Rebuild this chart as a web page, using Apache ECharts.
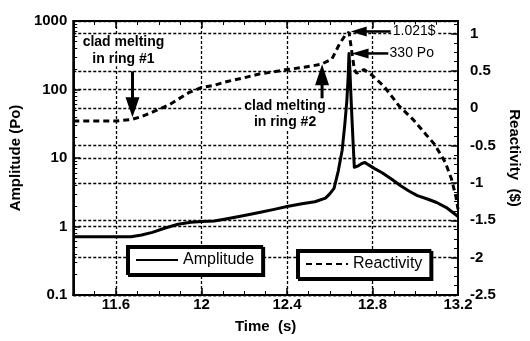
<!DOCTYPE html>
<html><head><meta charset="utf-8">
<script src="https://cdn.jsdelivr.net/npm/echarts@6/dist/echarts.min.js"></script>
<style>html,body{margin:0;padding:0;background:#fff}#c{width:530px;height:341px}</style>
</head><body><div id="c"></div>
<script>
// ---- data ----
const ampTime   = [11.40,11.67,11.72,11.77,11.83,11.89,11.95,12.00,12.06,12.12,12.20,12.27,12.34,12.40,12.47,12.53,12.58,12.60,12.62,12.64,12.658,12.67,12.68,12.686,12.69,12.694,12.70,12.708,12.715,12.73,12.75,12.765,12.78,12.81,12.845,12.89,12.93,12.97,13.01,13.06,13.10,13.15,13.20];
const ampValues = [0.71,0.71,0.75,0.82,0.95,1.08,1.15,1.18,1.20,1.30,1.45,1.60,1.78,1.96,2.15,2.30,2.60,3.0,3.6,6.5,13,30,69,150,336,200,70,20,7.3,7.6,8.3,8.6,8.0,7.0,6.1,4.9,3.97,3.3,2.83,2.5,2.24,1.85,1.4];
const reactTime   = [11.40,11.60,11.67,11.72,11.77,11.85,11.94,12.00,12.06,12.12,12.20,12.27,12.34,12.40,12.48,12.56,12.61,12.645,12.675,12.69,12.70,12.715,12.725,12.745,12.76,12.80,12.855,12.925,12.99,13.05,13.09,13.14,13.17,13.19,13.20];
const reactValues = [-0.17,-0.17,-0.15,-0.11,-0.05,0.05,0.21,0.28,0.31,0.36,0.41,0.46,0.49,0.52,0.55,0.59,0.66,0.86,0.99,1.021,0.82,0.52,0.47,0.50,0.52,0.44,0.29,0.03,-0.15,-0.35,-0.48,-0.72,-0.95,-1.18,-1.35];
const xLabels = [11.6, 12, 12.4, 12.8, 13.2];
const xMajorTicks = [11.6, 12, 12.4, 12.8];
const yRightLabels = [-2.5, -2, -1.5, -1, -0.5, 0, 0.5, 1];
const logMinorTicks = [];
[-1,0,1,2].forEach(e => { for (let m = 2; m <= 9; m++) logMinorTicks.push(e + Math.log10(m)); });

const FONT = 'Liberation Sans, Arial, sans-serif';
const BLK = '#000';
const gridLine = {show:true, lineStyle:{color:BLK, width:1.3, type:[3,2]}};

const chart = echarts.init(document.getElementById('c'), null, {renderer:'canvas'});
const xBase = {type:'value', min:11.4, max:13.2, gridIndex:0};
const tickOnly = (pos, opts) => Object.assign({}, xBase, {
  position:pos, axisLine:{show:false, onZero:false}, axisLabel:{show:false}, splitLine:{show:false}
}, opts);

chart.setOption({
  animation:false,
  backgroundColor:'#fff',
  grid:{left:66, right:61, top:21, bottom:46, show:true, borderColor:BLK, borderWidth:2, backgroundColor:'transparent'},
  xAxis:[
    Object.assign({}, xBase, {
      position:'bottom',
      name:'Time  (s)', nameLocation:'middle', nameGap:24,
      nameTextStyle:{fontFamily:FONT, fontSize:15, fontWeight:'bold', color:BLK},
      axisLine:{show:true, onZero:false, lineStyle:{color:BLK, width:2}},
      axisTick:{show:true, inside:true, length:7, lineStyle:{color:BLK, width:1.5}, customValues:xMajorTicks},
      axisLabel:{customValues:xLabels, margin:2, fontFamily:FONT, fontSize:15, fontWeight:'bold', color:BLK,
                 formatter:v => String(+v.toFixed(1))},
      splitLine:gridLine
    }),
    tickOnly('bottom', {interval:0.1, axisTick:{show:true, inside:true, length:4, lineStyle:{color:BLK, width:1}}}),
    tickOnly('top', {interval:0.1, axisTick:{show:true, inside:true, length:4, lineStyle:{color:BLK, width:1}}}),
    tickOnly('top', {axisTick:{show:true, inside:true, length:7, lineStyle:{color:BLK, width:1.5}, customValues:xMajorTicks}})
  ],
  yAxis:[
    {
      type:'log', logBase:10, min:0.1, max:1000, position:'left',
      name:'Amplitude (Po)', nameLocation:'middle', nameGap:40, nameRotate:90,
      nameTextStyle:{fontFamily:FONT, fontSize:15, fontWeight:'bold', color:BLK},
      axisLine:{show:true, onZero:false, lineStyle:{color:BLK, width:2}},
      axisTick:{show:true, inside:true, length:7, lineStyle:{color:BLK, width:1.5}},
      axisLabel:{margin:6, fontFamily:FONT, fontSize:15, fontWeight:'bold', color:BLK,
                 formatter:v => (v < 1 ? '0.1' : String(Math.round(v)))},
      splitLine:gridLine
    },
    {
      type:'value', min:-1, max:3, position:'left',
      axisLine:{show:false, onZero:false}, axisLabel:{show:false}, splitLine:{show:false},
      axisTick:{show:true, inside:true, length:4, lineStyle:{color:BLK, width:1}, customValues:logMinorTicks}
    },
    {
      type:'value', min:-2.5, max:1.17, interval:0.5, position:'right',
      name:'Reactivity  ($)', nameLocation:'middle', nameGap:49, nameRotate:-90,
      nameTextStyle:{fontFamily:FONT, fontSize:15, fontWeight:'bold', color:BLK},
      axisLine:{show:true, onZero:false, lineStyle:{color:BLK, width:2}},
      axisTick:{show:true, inside:true, length:7, lineStyle:{color:BLK, width:1.5}, customValues:yRightLabels},
      minorTick:{show:true, splitNumber:4, length:4, lineStyle:{color:BLK, width:1}},
      axisLabel:{customValues:yRightLabels, margin:12, fontFamily:FONT, fontSize:15, fontWeight:'bold', color:BLK,
                 formatter:v => String(+v.toFixed(1))},
      splitLine:gridLine
    }
  ],
  legend:[
    {data:['Amplitude'], left:127, top:246, orient:'horizontal', padding:[6,8,6,8], itemWidth:42, itemHeight:16,
     itemStyle:{color:'transparent', borderColor:'transparent', borderWidth:0, opacity:0},
     backgroundColor:'#fff', borderColor:BLK, borderWidth:2, shadowColor:BLK, shadowOffsetX:2, shadowOffsetY:2, shadowBlur:0,
     textStyle:{fontFamily:FONT, fontSize:16, color:BLK}},
    {data:['Reactivity'], left:297, top:250, orient:'horizontal', padding:[6,8,6,8], itemWidth:42, itemHeight:16,
     itemStyle:{color:'transparent', borderColor:'transparent', borderWidth:0, opacity:0},
     backgroundColor:'#fff', borderColor:BLK, borderWidth:2, shadowColor:BLK, shadowOffsetX:2, shadowOffsetY:2, shadowBlur:0,
     textStyle:{fontFamily:FONT, fontSize:16, color:BLK}}
  ],
  series:[
    {name:'Amplitude', type:'line', xAxisIndex:0, yAxisIndex:0, symbol:'none', smooth:false,
     lineStyle:{color:BLK, width:3, join:'round'}, itemStyle:{color:BLK},
     data:ampTime.map((t,i) => [t, ampValues[i]]), z:3},
    {name:'Reactivity', type:'line', xAxisIndex:0, yAxisIndex:2, symbol:'none', smooth:false,
     lineStyle:{color:BLK, width:3, type:[6,4]}, itemStyle:{color:BLK},
     data:reactTime.map((t,i) => [t, reactValues[i]]), z:3}
  ]
});

// ---- annotations, anchored to data coordinates ----
function px(ya, t, v){ return chart.convertToPixel({xAxisIndex:0, yAxisIndex:ya}, [t, v]); }
const r1 = px(2, 11.677, -0.12);   // clad melting ring #1 arrow tip
const r2 = px(2, 12.564, 0.59);    // clad melting ring #2 arrow tip
const pk = px(2, 12.698, 1.03);    // 1.021$ arrow tip
const pa = px(0, 12.702, 336);     // 330 Po arrow tip
const annFont = 'bold 14px ' + FONT;
const valFont = '14px ' + FONT;
function txt(x, y, s, font, align){
  return {type:'text', x:x, y:y, z:20, style:{text:s, font:font, fill:BLK, align:align||'center', verticalAlign:'middle',
          backgroundColor:'#fff', padding:[0,1]}};
}
function vline(x, y1, y2){ return {type:'line', z:20, shape:{x1:x, y1:y1, x2:x, y2:y2}, style:{stroke:BLK, lineWidth:3}}; }
function hline(y, x1, x2){ return {type:'line', z:20, shape:{x1:x1, y1:y, x2:x2, y2:y}, style:{stroke:BLK, lineWidth:2.5}}; }
function poly(pts){ return {type:'polygon', z:20, shape:{points:pts}, style:{fill:BLK}}; }
chart.setOption({graphic:[
  txt(r1[0]-9, r1[1]-75, 'clad melting', annFont),
  txt(r1[0]-9, r1[1]-58, 'in ring #1', annFont),
  vline(r1[0], r1[1]-46, r1[1]-18),
  poly([[r1[0]-7, r1[1]-20], [r1[0]+7, r1[1]-20], [r1[0], r1[1]]]),
  txt(r2[0]-37, r2[1]+42, 'clad melting', annFont),
  txt(r2[0]-37, r2[1]+58, 'in ring #2', annFont),
  vline(r2[0], r2[1]+18, r2[1]+34),
  poly([[r2[0]-7, r2[1]+21], [r2[0]+7, r2[1]+21], [r2[0], r2[1]]]),
  poly([[pk[0], pk[1]], [pk[0]+16, pk[1]-5], [pk[0]+16, pk[1]+5]]),
  hline(pk[1], pk[0]+14, pk[0]+40),
  txt(pk[0]+41, pk[1], '1.021$', valFont, 'left'),
  poly([[pa[0], pa[1]], [pa[0]+17, pa[1]-5], [pa[0]+17, pa[1]+5]]),
  hline(pa[1], pa[0]+15, pa[0]+37),
  txt(pa[0]+37, pa[1], '330 Po', valFont, 'left')
]});
</script></body></html>
